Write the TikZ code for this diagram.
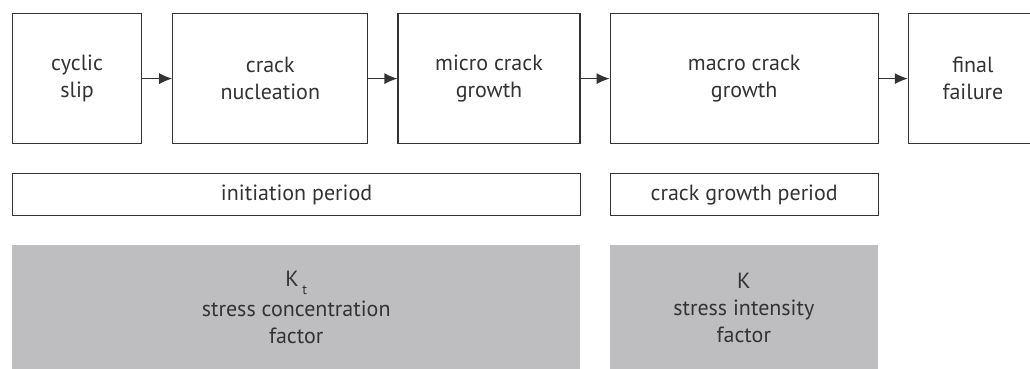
\documentclass[tikz,border=0pt]{standalone}
\usepackage{fontspec}
\setmainfont{PT Sans}
\usetikzlibrary{arrows.meta,positioning}

\definecolor{inkgray}{HTML}{333333}
\definecolor{factorgray}{HTML}{BEBEC0}

\begin{document}
\begin{tikzpicture}[
    x=1pt, y=-1pt,
    stage/.style={rectangle, draw=inkgray, line width=1.2pt, minimum height=130pt, inner sep=0pt, align=center, text=inkgray, font=\fontsize{22}{27}\selectfont},
    period/.style={rectangle, draw=inkgray, line width=1.2pt, minimum height=42pt, inner sep=0pt, align=center, text=inkgray, font=\fontsize{22}{27}\selectfont},
    factor/.style={rectangle, fill=factorgray, minimum height=126pt, inner sep=0pt, align=center, text=inkgray, font=\fontsize{22}{27}\selectfont},
    arr/.style={-{Latex[length=13pt, width=11pt]}, line width=1.2pt, draw=inkgray},
    node distance=29pt
]
\useasboundingbox (0,0) rectangle (1030,368);

% the five stages of fatigue life, left to right
\node[stage, anchor=north west, minimum width=129pt] (slip) at (12,13) {cyclic\\slip};
\node[stage, right=30pt of slip, minimum width=195pt] (nucl) {crack\\nucleation};
\node[stage, right=of nucl, minimum width=182pt] (micro) {micro crack\\growth};
\node[stage, right=of micro, minimum width=268pt] (macro) {macro crack\\growth};
\node[stage, right=of macro, minimum width=129pt] (fail) {final\\failure};

\draw[arr] (slip) -- (nucl);
\draw[arr] (nucl) -- (micro);
\draw[arr] (micro) -- (macro);
\draw[arr] (macro) -- (fail);

% periods and the governing factors below them
\node[period, below right=29pt and 0pt of slip.south west, minimum width=568pt] (init) {initiation period};
\node[period, below right=29pt and 0pt of macro.south west, minimum width=268pt] (growth) {crack growth period};

\node[factor, below right=28pt and 0pt of init.south west, minimum width=568pt] (kt) {K\,\raisebox{-0.75ex}{\fontsize{14}{14}\selectfont t}\\[3pt]stress concentration\\factor};
\node[factor, below right=28pt and 0pt of growth.south west, minimum width=268pt] (k) {K\\stress intensity\\factor};
\end{tikzpicture}
\end{document}
